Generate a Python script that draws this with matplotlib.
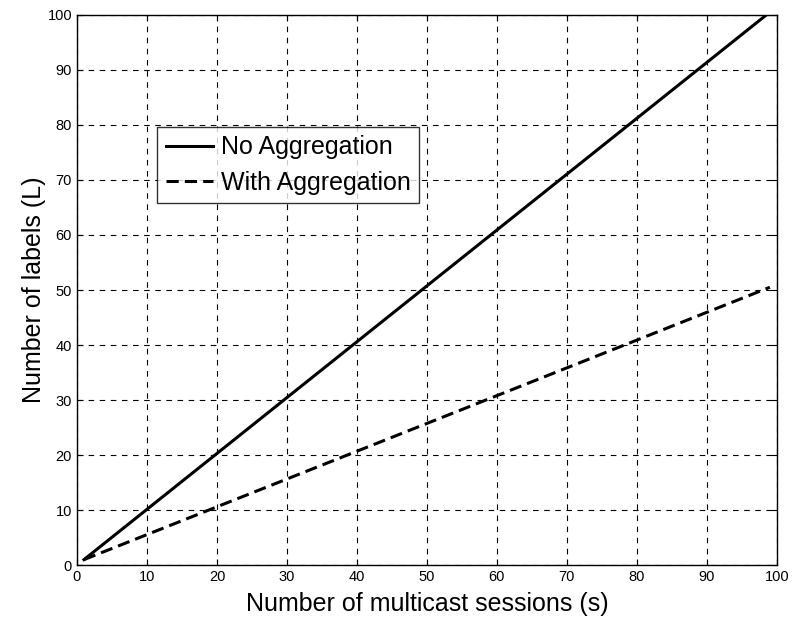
import matplotlib
matplotlib.use("Agg")
import matplotlib.pyplot as plt

plt.rcParams['font.family'] = ['Liberation Sans', 'DejaVu Sans']

# Label counts vs number of multicast sessions
sessions_no_agg = [1, 98.5]
labels_no_agg = [1, 100]
sessions_agg = [1, 99]
labels_agg = [1, 50.5]

x_ticks = [0, 10, 20, 30, 40, 50, 60, 70, 80, 90, 100]
y_ticks = [0, 10, 20, 30, 40, 50, 60, 70, 80, 90, 100]

fig = plt.figure(figsize=(7.96, 6.21), dpi=100)
ax = fig.add_axes([0.0967, 0.090, 0.8793, 0.886])

ax.plot(sessions_no_agg, labels_no_agg, color='black', linewidth=2.2,
        label='No Aggregation')
ax.plot(sessions_agg, labels_agg, color='black', linewidth=2.2,
        linestyle=(0, (4, 2)), label='With Aggregation')

ax.set_xlim(0, 100)
ax.set_ylim(0, 100)
ax.set_xticks(x_ticks)
ax.set_yticks(y_ticks)
ax.grid(True, color='black', linestyle=(0, (5, 5)), linewidth=0.8)
ax.tick_params(direction='in', top=True, right=True, length=4,
               labelsize=10.5, colors='black')
for s in ax.spines.values():
    s.set_linewidth(1.0)

ax.set_xlabel('Number of multicast sessions (s)', fontsize=18, labelpad=6)
ax.set_ylabel('Number of labels (L)', fontsize=18, labelpad=1)

# boxed legend in the upper left
leg = ax.legend(loc='upper left', bbox_to_anchor=(0.114, 0.797),
                borderaxespad=0, fontsize=18,
                frameon=True, fancybox=False, edgecolor='black',
                handlelength=1.9, handletextpad=0.3, borderpad=0.35,
                labelspacing=0.45)
leg.get_frame().set_linewidth(1.0)

fig.savefig('out.png', dpi=100)
